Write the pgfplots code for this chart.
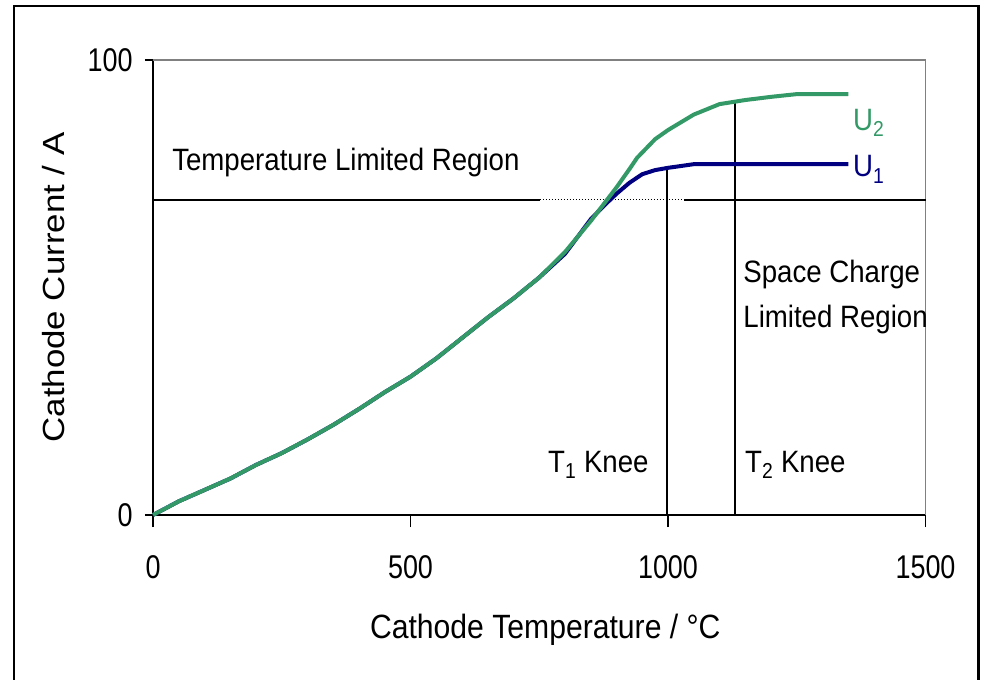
\documentclass[border=0pt]{standalone}
\usepackage{fontspec}
\setmainfont[FakeStretch=0.895]{Liberation Sans}
\newfontfamily\tickfont[FakeStretch=0.82]{Liberation Sans}
\newfontfamily\ylabfont[FakeStretch=1.14]{Liberation Sans}
\usepackage{pgfplots}
\pgfplotsset{compat=1.18}
\definecolor{seagreen}{HTML}{339966}
\definecolor{navyblue}{HTML}{000080}
\definecolor{framegray}{HTML}{808080}

\begin{document}
\begin{tikzpicture}
\begin{axis}[%
    at={(0,0)}, anchor=south west,
    scale only axis, width=772.5bp, height=455bp,
    xmin=0, xmax=1500, ymin=0, ymax=100,
    axis x line=bottom, axis y line=left,
    axis line style={-, black, line width=1.8bp},
    xtick={0,500,1000,1500}, ytick={0,100},
    tick align=outside,
    tick style={black, line width=1.5bp},
    xtick style={/pgfplots/major tick length=12bp},
    ytick style={/pgfplots/major tick length=8bp},
    font=\fontsize{31}{36}\selectfont,
    tick label style={font=\tickfont\fontsize{33}{38}\selectfont},
    /pgf/number format/assume math mode=true,
    /pgf/number format/1000 sep={},
    xticklabel style={anchor=center, yshift=-48bp, inner sep=0pt},
    yticklabel style={anchor=east, xshift=-16bp, inner sep=0pt},
    xlabel={Cathode Temperature / °C},
    ylabel={Cathode Current / A},
    xlabel style={font=\fontsize{33.8}{38}\selectfont,
        at={(axis description cs:0.5078,-0.2527)}, anchor=center},
    ylabel style={font=\ylabfont\fontsize{30.7}{36}\selectfont,
        at={(axis description cs:-0.1282,0.5)}, anchor=center},
    clip=false,
    ]
% grey top and right edges of the plot area
\draw[framegray, line width=1.8bp] (rel axis cs:0,1) -- (rel axis cs:1,1) -- (rel axis cs:1,0);

% region boundary and knees
\addplot[black, line width=2bp] coordinates {(0,69.3) (751,69.3)};
\addplot[black, line width=1.4bp, dash pattern=on 1.5bp off 1.5bp] coordinates {(751,69.3) (1032,69.3)};
\addplot[black, line width=2bp] coordinates {(1032,69.3) (1500,69.3)};
\addplot[black, line width=2bp] coordinates {(999,0) (999,76.3)};
\addplot[black, line width=2bp] coordinates {(1131,0) (1131,91.0)};

% U1
\addplot[navyblue, line width=4bp, line join=round] coordinates {
(0,0) (50,3.0) (100,5.5) (150,8.0) (200,11.0) (250,13.6) (300,16.6)
(350,19.8) (400,23.3) (450,27.0) (500,30.4) (550,34.4) (600,38.9)
(650,43.4) (700,47.6) (750,52.2) (800,57.4) (850,65.0) (875,67.9)
(900,70.6) (925,73.0) (950,74.9) (975,75.8) (1000,76.3) (1050,77.1)
(1350,77.1)};

% U2
\addplot[seagreen, line width=4bp, line join=round] coordinates {
(0,0) (50,3.0) (100,5.5) (150,8.0) (200,11.0) (250,13.6) (300,16.6)
(350,19.8) (400,23.3) (450,27.0) (500,30.4) (550,34.4) (600,38.9)
(650,43.4) (700,47.6) (750,52.2) (800,57.8) (850,64.6) (900,72.0)
(925,76.0) (940,78.5) (975,82.6) (1000,84.6) (1050,88.0) (1100,90.3)
(1150,91.2) (1200,91.9) (1250,92.5) (1350,92.5)};

\node[anchor=base west, inner sep=0pt] at (axis cs:37,75.8) {Temperature Limited Region};
\node[anchor=base west, inner sep=0pt, text=seagreen] at (axis cs:1359,84.6) {U\textsubscript{2}};
\node[anchor=base west, inner sep=0pt, text=navyblue] at (axis cs:1359,74.3) {U\textsubscript{1}};
\node[anchor=base west, inner sep=0pt] at (axis cs:1146,51.2) {Space Charge};
\node[anchor=base west, inner sep=0pt] at (axis cs:1146,41.3) {Limited Region};
\node[anchor=base west, inner sep=0pt] at (axis cs:767,9.45) {T\textsubscript{1} Knee};
\node[anchor=base west, inner sep=0pt] at (axis cs:1149.5,9.45) {T\textsubscript{2} Knee};
\end{axis}
% outer chart frame
\draw[black, line width=2.5bp] (-139bp,-190bp) -- (-139bp,509bp) -- (825.5bp,509bp) -- (825.5bp,-190bp);
\pgfresetboundingbox
\useasboundingbox (-153bp,-165bp) rectangle (828bp,515bp);
\end{tikzpicture}
\end{document}
